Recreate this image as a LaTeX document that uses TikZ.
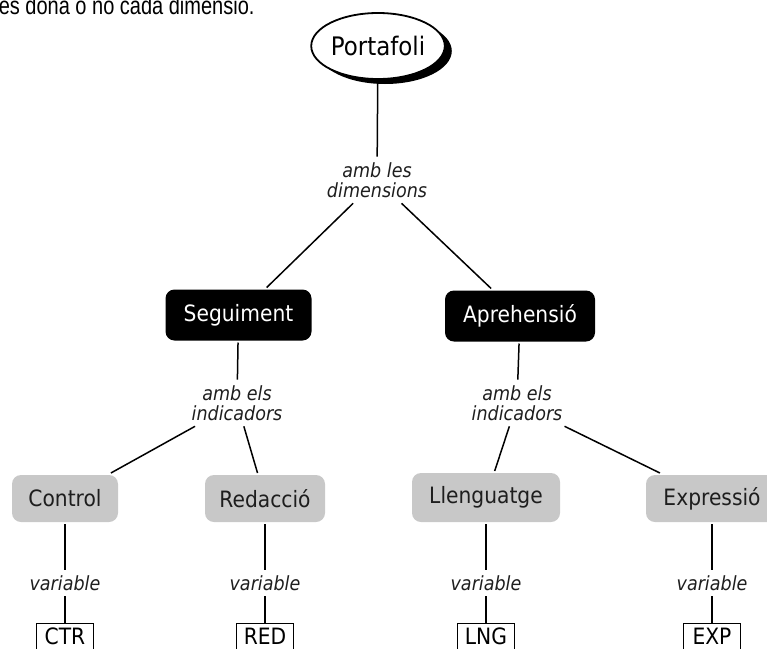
\documentclass[tikz,border=0pt]{standalone}
\usepackage{fontspec}
\setmainfont{DejaVu Sans}[FakeStretch=0.9]
\newfontfamily\headfont{Liberation Sans}[FakeStretch=0.8]
\usetikzlibrary{shapes.geometric,shadows}
\definecolor{conceptgray}{RGB}{200,200,200}
\definecolor{inktext}{RGB}{30,30,30}

\begin{document}
\begin{tikzpicture}[x=1pt,y=-1pt,line width=1.5pt,
	conceptfont/.style={font=\fontsize{22.5}{26}\selectfont},
	root/.style={ellipse,draw,line width=1.8pt,fill=white,minimum width=133pt,minimum height=66pt,inner sep=0pt,font=\fontsize{25.5}{30}\selectfont,
		drop shadow={shadow xshift=7pt,shadow yshift=-5pt,opacity=1,fill=black}},
	dimbox/.style={rounded corners=9pt,fill=black,text=white,minimum height=51pt,inner sep=0pt,outer sep=2pt,conceptfont},
	indbox/.style={rounded corners=9pt,fill=conceptgray,text=inktext,minimum height=47pt,inner sep=0pt,outer sep=2pt,conceptfont},
	codebox/.style={draw,line width=1.2pt,anchor=north,minimum width=57pt,inner xsep=4pt,inner ysep=4pt,text height=17pt,text depth=6pt,conceptfont},
	link/.style={align=center,inner sep=5pt,text=inktext,font=\fontsize{19.5}{20}\itshape\selectfont}]
	\useasboundingbox (0,0) rectangle (767,648);
	\clip (0,0) rectangle (767,648);
	\node[anchor=base west,inner sep=0pt,font=\headfont\fontsize{25}{29}\selectfont] (head) at (-2,14) {es dóna o no cada dimensió.}; % page text above
	\node[root] (port) at (378,46) {Portafoli};
	\node[link] (dimlink) at (377,180) {amb les\\dimensions};
	\node[dimbox,minimum width=146pt] (seg) at (238.5,315) {Seguiment};
	\node[dimbox,minimum width=150pt] (apr) at (520,316) {Aprehensió};
	\node[link] (indlinkA) at (237,403) {amb els\\indicadors};
	\node[link] (indlinkB) at (517,403) {amb els\\indicadors};
	\node[indbox,minimum width=106pt] (ctl) at (65,498.5) {Control};
	\node[indbox,minimum width=120pt] (red) at (265,498.5) {Redacció};
	\node[indbox,minimum width=148pt,minimum height=49pt] (lng) at (486,497.5) {Llenguatge};
	\node[indbox,minimum width=132pt] (exp) at (712,498.5) {Expressió};
	\node[link] (varA) at (65,583) {variable};
	\node[link] (varB) at (265,583) {variable};
	\node[link] (varC) at (486,583) {variable};
	\node[link] (varD) at (712,583) {variable};
	\node[codebox] (ctr) at (65,623) {CTR};
	\node[codebox] (rd) at (265,623) {RED};
	\node[codebox] (lg) at (486,623) {LNG};
	\node[codebox] (ex) at (712,623) {EXP};
	% dimensions
	\draw (port) -- (dimlink);
	\draw (dimlink) -- (seg);
	\draw (dimlink) -- (apr);
	% indicators
	\draw (seg) -- (indlinkA);
	\draw (indlinkA) -- (ctl);
	\draw (indlinkA) -- (red);
	\draw (apr) -- (indlinkB);
	\draw (indlinkB) -- (lng);
	\draw (indlinkB) -- (exp);
	% variables
	\draw (ctl) -- (varA) -- (ctr);
	\draw (red) -- (varB) -- (rd);
	\draw (lng) -- (varC) -- (lg);
	\draw (exp) -- (varD) -- (ex);
\end{tikzpicture}
\end{document}
